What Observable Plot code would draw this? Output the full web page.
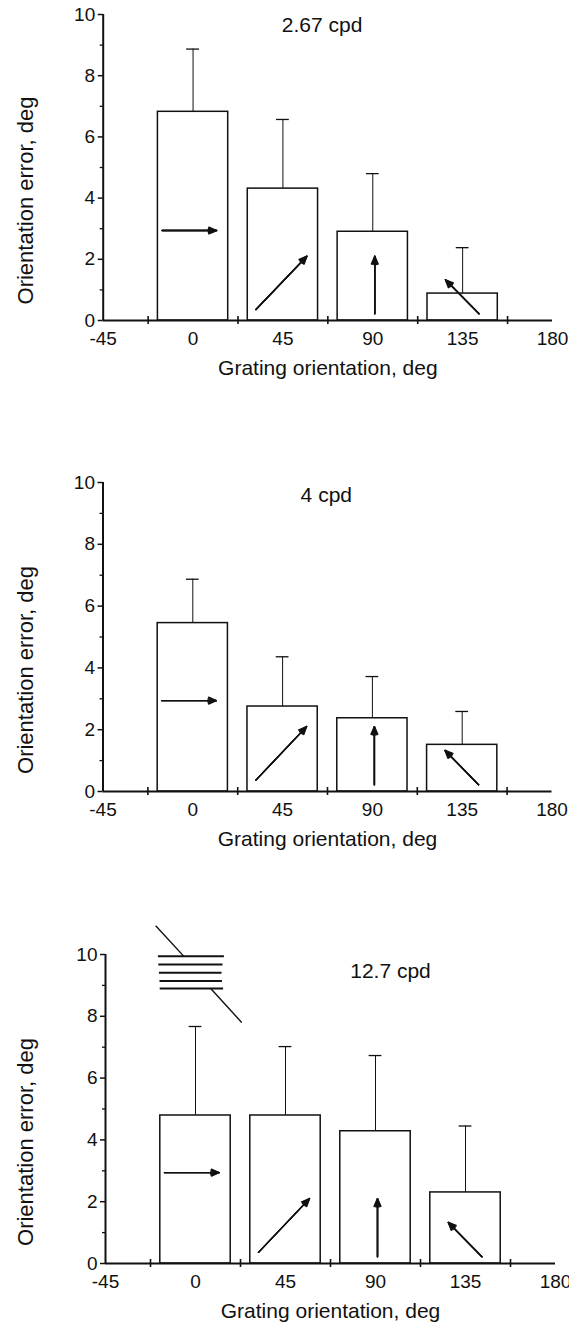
<!DOCTYPE html>
<html><head><meta charset="utf-8">
<script src="https://cdn.jsdelivr.net/npm/d3@7"></script>
<script src="https://cdn.jsdelivr.net/npm/@observablehq/plot@0.6"></script>
<style>
html,body{margin:0;padding:0;background:#fff;}
#chart{position:relative;width:569px;height:1327px;background:#fff;}
#chart svg{position:absolute;left:0;}
</style></head><body><div id="chart"></div>
<script>
// ---- data ----
const orientations = [0, 45, 90, 135];
const panelTitles = ["2.67 cpd", "4 cpd", "12.7 cpd"];
const mean267 = [6.82, 4.31, 2.90, 0.88];
const sd267   = [2.05, 2.26, 1.90, 1.50];
const mean4   = [5.45, 2.75, 2.37, 1.51];
const sd4     = [1.42, 1.61, 1.35, 1.08];
const mean127 = [4.79, 4.79, 4.28, 2.30];
const sd127   = [2.88, 2.23, 2.45, 2.15];
const xTickLabels = [-45, 0, 45, 90, 135, 180];
const xTickMarks = [-22.5, 22.5, 67.5, 112.5, 157.5];
const yMajorTicks = [0, 2, 4, 6, 8, 10];
const yMinorTicks = [1, 3, 5, 7, 9];
const xLabel = "Grating orientation, deg";
const yLabel = "Orientation error, deg";
// orientation arrows drawn inside the bars (data units)
const arrowX1 = [-15.5, 31.5, 91, 143.2];
const arrowY1 = [2.94, 0.36, 0.22, 0.22];
const arrowX2 = [11.8, 57, 91, 126.4];
const arrowY2 = [2.94, 2.1, 2.1, 1.33];
// grating icon in the 12.7 cpd panel (data units)
const gratingY = [9.94, 9.68, 9.41, 9.14, 8.9];
const gratingX1 = [-18.8, -18.6, -18.3, -18.0, -17.9];
const gratingX2 = [14.2, 13.5, 13.0, 13.2, 13.8];
const diagX1 = [-19.9, 7.6];
const diagY1 = [10.93, 8.9];
const diagX2 = [-5.8, 23.1];
const diagY2 = [9.94, 7.8];
// title anchor positions (data units)
const titleX = [64.6, 66.9, 97.5];
const titleY = [9.64, 9.6, 9.47];

const means = [mean267, mean4, mean127];
const sds = [sd267, sd4, sd127];

// ---- layout ----
const ink = "#111";
const font = "'Liberation Sans', Arial, Helvetica, sans-serif";
const layout = [
  {top: 0,   mt: 14, ph: 306, mb: 62, ml: 102.7, mr: 17},
  {top: 468, mt: 14, ph: 309, mb: 62, ml: 102.5, mr: 17.5},
  {top: 900, mt: 54, ph: 309, mb: 64, ml: 105,   mr: 14}
];

const chart = document.getElementById("chart");

layout.forEach((L, i) => {
  const rows = orientations.map((o, j) => ({o, m: means[i][j], s: sds[i][j]}));
  const arrowIdx = arrowX1.map((_, k) => k);
  const marks = [
    Plot.rect(rows, {x1: d => d.o - 17.6, x2: d => d.o + 17.6, y1: () => 0, y2: d => d.m,
      fill: "white", stroke: ink, strokeWidth: 1.5}),
    Plot.ruleX(rows, {x: d => d.o, y1: d => d.m, y2: d => d.m + d.s, stroke: ink, strokeWidth: 1}),
    Plot.ruleY(rows, {y: d => d.m + d.s, x1: d => d.o - 3.2, x2: d => d.o + 3.2, stroke: ink, strokeWidth: 1.3}),
    ...[10, 24, 38, 48].map(a => Plot.arrow(arrowIdx, {
      x1: k => arrowX1[k], y1: k => arrowY1[k], x2: k => arrowX2[k], y2: k => arrowY2[k],
      headLength: 9, headAngle: a, stroke: ink, strokeWidth: 1.4})),
    // axes lines
    Plot.ruleY([0], {y: d => d, x1: () => -45, x2: () => 180, stroke: ink, strokeWidth: 2}),
    Plot.ruleX([-45], {x: d => d, y1: () => 0, y2: () => 10, stroke: ink, strokeWidth: 2}),
    Plot.ruleX(xTickMarks, {x: d => d, y1: () => 0, y2: () => 0, insetTop: -4, insetBottom: -4, stroke: ink, strokeWidth: 1.6}),
    Plot.axisX({ticks: xTickLabels, tickSize: 0, tickPadding: 11, tickFormat: d => String(d), fontSize: 19, label: null}),
    Plot.axisY({ticks: yMajorTicks, tickSize: 5, tickPadding: 3, tickFormat: d => String(d), fontSize: 19, strokeWidth: 1.5, label: null}),
    Plot.axisY({ticks: yMinorTicks, tickSize: 3, tickPadding: 0, tickFormat: () => "", strokeWidth: 1.3, label: null}),
    Plot.text([panelTitles[i]], {x: () => titleX[i], y: () => titleY[i], text: d => d, fontSize: 21, fill: ink}),
    Plot.text([xLabel], {frameAnchor: "bottom", textAnchor: "middle", lineAnchor: "middle", text: d => d, dy: 48, fontSize: 21, fill: ink}),
    Plot.text([yLabel], {frameAnchor: "left", textAnchor: "middle", lineAnchor: "middle", text: d => d, rotate: -90, dx: -(L.ml - 25), dy: 33, fontSize: 22, fill: ink})
  ];
  if (i === 2) {
    const gIdx = gratingY.map((_, k) => k);
    marks.push(Plot.link(gIdx, {x1: k => gratingX1[k], x2: k => gratingX2[k], y1: k => gratingY[k], y2: k => gratingY[k], stroke: ink, strokeWidth: 2}));
    const dIdx = diagX1.map((_, k) => k);
    marks.push(Plot.link(dIdx, {x1: k => diagX1[k], x2: k => diagX2[k], y1: k => diagY1[k], y2: k => diagY2[k], stroke: ink, strokeWidth: 1.4}));
  }
  const svg = Plot.plot({
    width: 569,
    height: L.mt + L.ph + L.mb,
    marginTop: L.mt, marginBottom: L.mb, marginLeft: L.ml, marginRight: L.mr,
    x: {domain: [-45, 180]},
    y: {domain: [0, 10]},
    style: {background: "transparent", fontFamily: font, color: ink, overflow: "visible"},
    marks
  });
  svg.style.top = L.top + "px";
  chart.appendChild(svg);
});
</script>
</body></html>
